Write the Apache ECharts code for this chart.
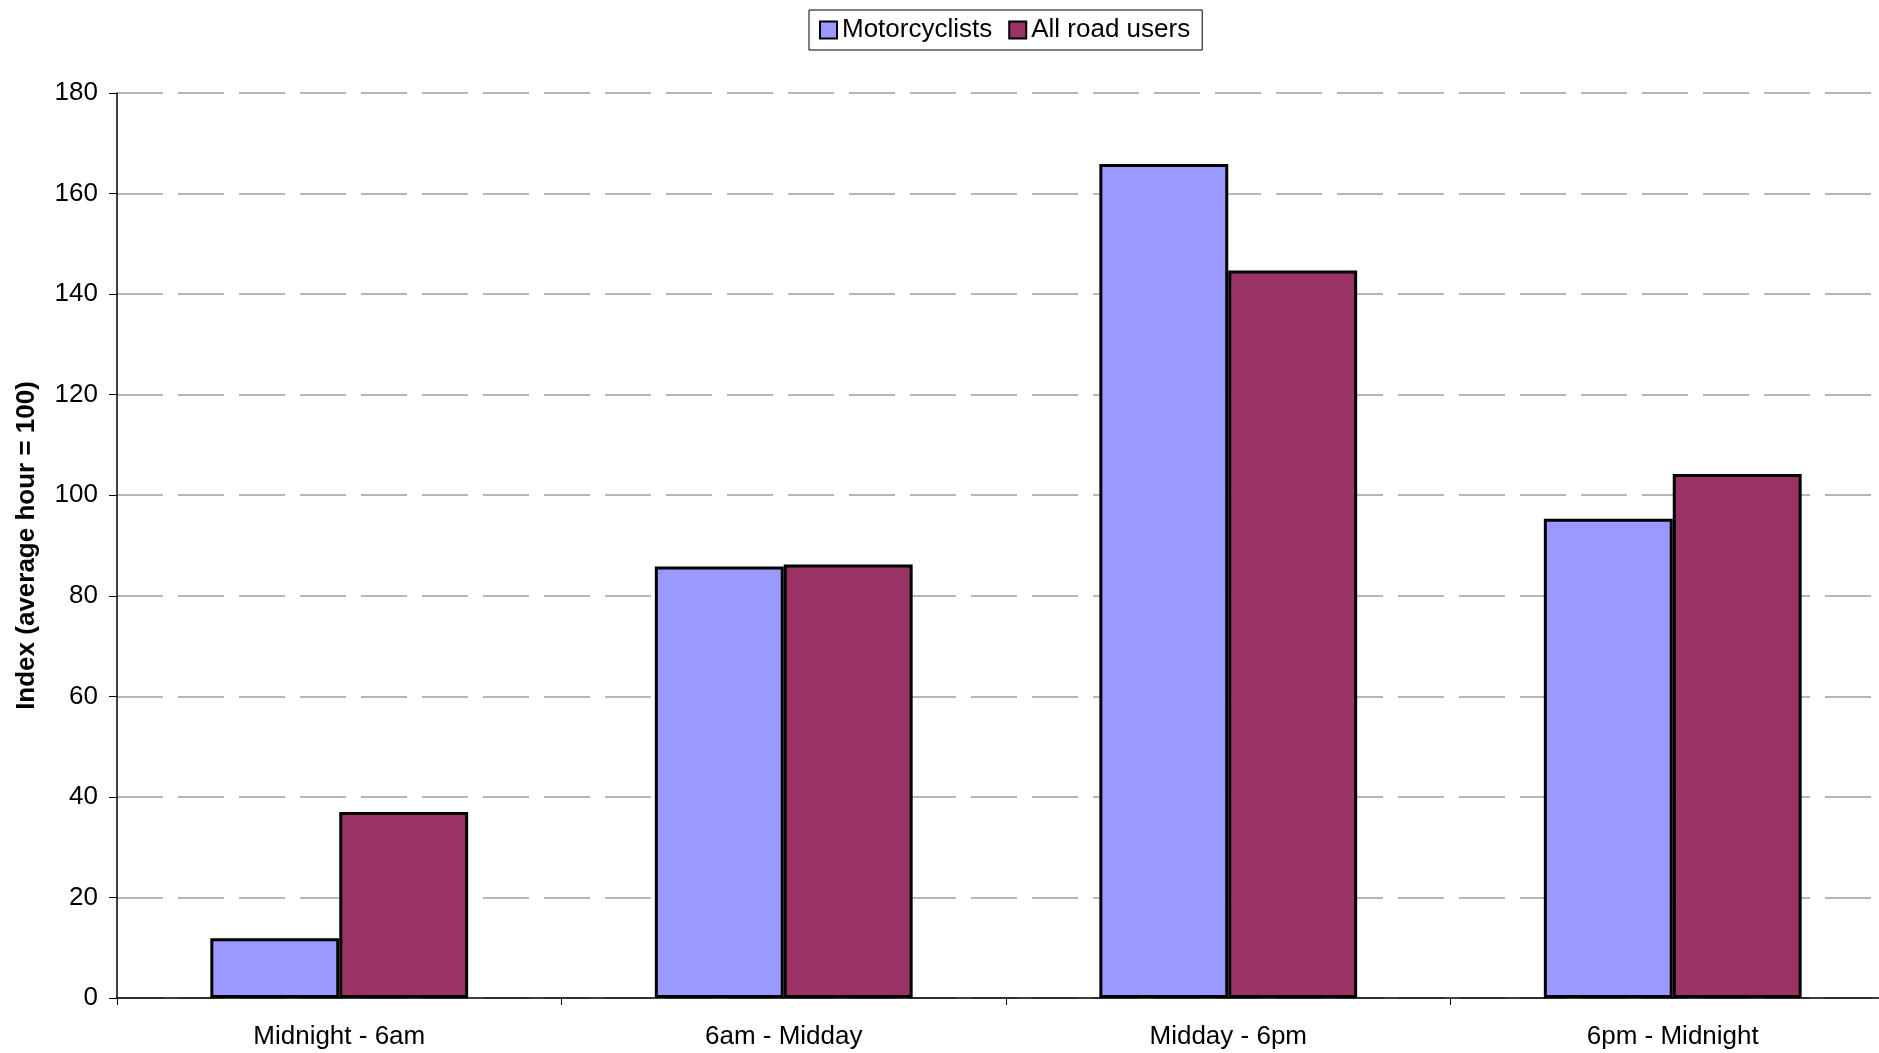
<!DOCTYPE html>
<html>
<head>
<meta charset="utf-8">
<script src="https://cdn.jsdelivr.net/npm/echarts@6/dist/echarts.min.js"></script>
<style>
  html, body { margin: 0; padding: 0; background: #fff; overflow: hidden; }
  #chart { width: 1879px; height: 1053px; }
</style>
</head>
<body>
<div id="chart"></div>
<script>
// Time-of-day index of casualties (average hour = 100)
const periods = ['Midnight - 6am', '6am - Midday', 'Midday - 6pm', '6pm - Midnight'];
const motorcyclists = [11.9, 85.8, 165.9, 95.3];
const allRoadUsers = [37.0, 86.2, 144.7, 104.2];
const yTicks = { min: 0, max: 180, interval: 20 };

const FONT = '"Liberation Sans", Arial, sans-serif';
const chart = echarts.init(document.getElementById('chart'), null, { renderer: 'canvas' });

chart.setOption({
  animation: false,
  textStyle: { fontFamily: FONT, color: '#000' },
  legend: {
    left: 809,
    top: 10,
    padding: [7, 12, 7, 10],
    borderColor: '#000',
    borderWidth: 1,
    itemWidth: 17,
    itemHeight: 17,
    itemGap: 16,
    icon: 'rect',
    textStyle: { fontFamily: FONT, fontSize: 26, color: '#000' },
    data: ['Motorcyclists', 'All road users']
  },
  // the plot area runs past the right edge of the canvas
  grid: { left: 117, width: 1778, top: 93, bottom: 55, outerBoundsMode: 'none', containLabel: false },
  xAxis: {
    type: 'category',
    data: periods,
    axisLine: { lineStyle: { color: '#000', width: 1.5 } },
    axisTick: { show: true, length: 7, lineStyle: { color: '#000' } },
    axisLabel: { fontFamily: FONT, fontSize: 26, color: '#000', margin: 26 }
  },
  yAxis: {
    type: 'value',
    min: yTicks.min,
    max: yTicks.max,
    interval: yTicks.interval,
    name: 'Index (average hour = 100)',
    nameLocation: 'middle',
    nameGap: 77,
    nameTextStyle: { fontFamily: FONT, fontSize: 26, fontWeight: 'bold', color: '#000' },
    axisLine: { show: true, lineStyle: { color: '#000', width: 1.5 } },
    axisTick: { show: true, length: 8, lineStyle: { color: '#000' } },
    axisLabel: { fontFamily: FONT, fontSize: 26, color: '#000', margin: 19 },
    splitLine: { show: true, lineStyle: { color: '#a0a0a0', width: 1.5, type: [46, 15] } }
  },
  series: [
    {
      name: 'Motorcyclists',
      type: 'bar',
      data: motorcyclists,
      barGap: '0%',
      barCategoryGap: '42%',
      itemStyle: { color: '#9999ff', borderColor: '#000', borderWidth: 3 }
    },
    {
      name: 'All road users',
      type: 'bar',
      data: allRoadUsers,
      itemStyle: { color: '#993366', borderColor: '#000', borderWidth: 3 }
    }
  ]
});
</script>
</body>
</html>
